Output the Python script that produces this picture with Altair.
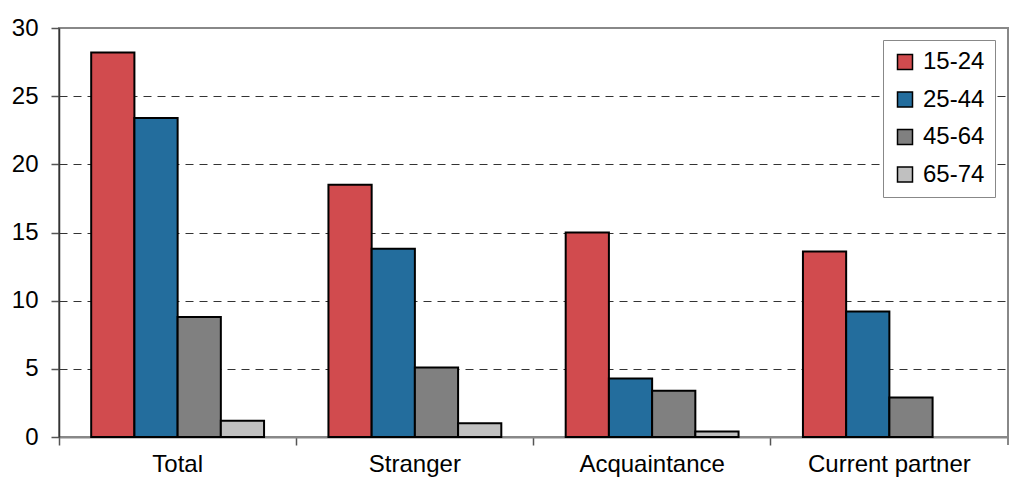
import altair as alt
import pandas as pd

categories = ["Total", "Stranger", "Acquaintance", "Current partner"]
age_groups = ["15-24", "25-44", "45-64", "65-74"]
v_15_24 = [28.2, 18.5, 15.0, 13.6]
v_25_44 = [23.4, 13.8, 4.3, 9.2]
v_45_64 = [8.8, 5.1, 3.4, 2.9]
v_65_74 = [1.2, 1.0, 0.4, None]
colors = ["#D14B4E", "#236D9D", "#808080", "#C0C0C0"]
y_ticks = [0, 5, 10, 15, 20, 25, 30]

rows = []
for ag, vals in zip(age_groups, [v_15_24, v_25_44, v_45_64, v_65_74]):
    for c, v in zip(categories, vals):
        if v is not None:
            rows.append({"category": c, "age": ag, "value": v})
df = pd.DataFrame(rows)

FONT = "Liberation Sans"
W, H = 949, 409

bars = alt.Chart(df).mark_bar(stroke="black", strokeWidth=2).encode(
    x=alt.X(
        "category:N",
        sort=categories,
        scale=alt.Scale(domain=categories, paddingInner=0, paddingOuter=0),
        axis=alt.Axis(
            title=None, labelAngle=0, bandPosition=0, tickSize=8, labelPadding=7,
            labelFontSize=24, labelFont=FONT, labelColor="black",
            domainColor="#888", domainWidth=2, tickColor="#555", tickWidth=1.5, grid=False,
        ),
    ),
    xOffset=alt.XOffset(
        "age:N", scale=alt.Scale(domain=age_groups, paddingInner=0, paddingOuter=0.745)
    ),
    y=alt.Y(
        "value:Q",
        scale=alt.Scale(domain=[0, 30], nice=False),
        axis=alt.Axis(
            title=None, values=y_ticks, tickSize=8, labelPadding=13,
            labelFontSize=24, labelFont=FONT, labelColor="black",
            domainColor="#333", domainWidth=1.5, tickColor="#555", tickWidth=1.5,
            grid=True, gridColor="#333", gridDash=[8, 6], gridWidth=1,
            gridOpacity={"condition": {"test": "datum.value == 0 || datum.value == 30", "value": 0}, "value": 1},
        ),
    ),
    color=alt.Color(
        "age:N",
        scale=alt.Scale(domain=age_groups, range=colors),
        legend=alt.Legend(
            title=None, orient="none", legendX=824, legendY=12,
            symbolType="square", symbolSize=225, symbolStrokeColor="black",
            symbolStrokeWidth=1.5, symbolOpacity=1, labelFontSize=24, labelFont=FONT,
            labelColor="black", rowPadding=13.5, labelOffset=6, padding=10,
            strokeColor="#888", fillColor="white",
        ),
    ),
)

edge_tick = alt.Chart(pd.DataFrame({"a": [0]})).mark_rule(color="#888", strokeWidth=2).encode(
    x=alt.value(W), y=alt.value(H), y2=alt.value(H + 8)
)

chart = alt.layer(bars, edge_tick).properties(
    width=W, height=H,
    autosize=alt.AutoSizeParams(type="none"),
    padding={"left": 51, "top": 20, "right": 1, "bottom": 40},
).configure_view(stroke="#888", strokeWidth=2)

chart.save("out.html", embed_options={"renderer": "svg", "actions": False})
